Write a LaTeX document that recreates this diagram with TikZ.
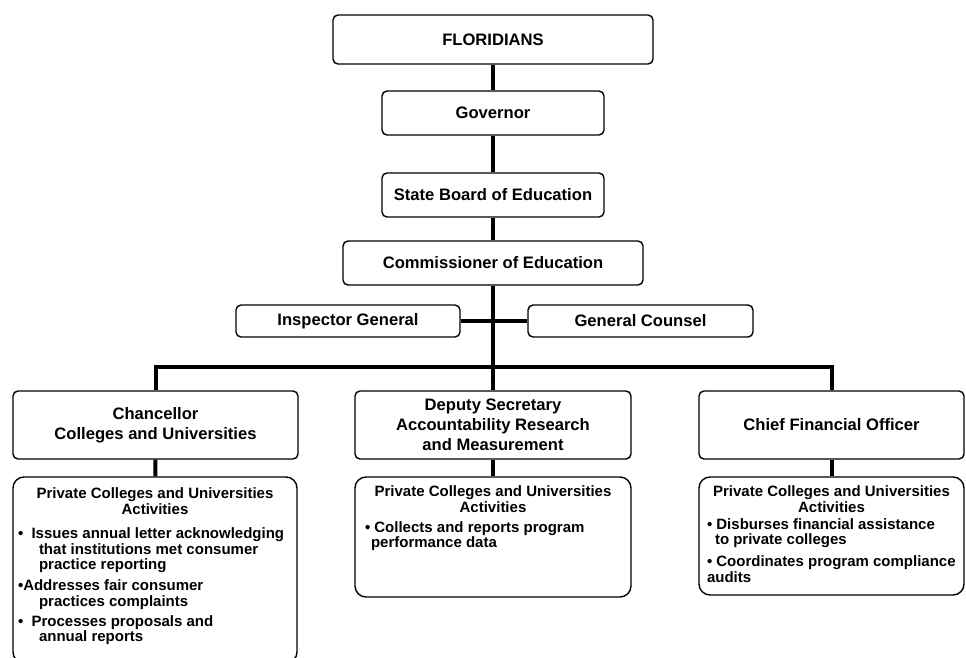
\documentclass[tikz,border=0pt]{standalone}
\usepackage{fontspec}
\setmainfont{Liberation Sans}
\newcommand{\actlist}[3]{\parbox[c][#1][t]{#2}{\fontsize{15}{15.5}\selectfont\bfseries #3}}

\begin{document}
\begin{tikzpicture}[x=1pt, y=-1pt,
	unit/.style={draw, line width=1.4pt, rounded corners=5pt, align=center, inner sep=0pt, font=\fontsize{16.6}{20}\selectfont\bfseries},
	acts/.style={draw, line width=1.4pt, rounded corners=11pt, inner sep=0pt},
	link/.style={line width=4pt}]
	\useasboundingbox (0, 0) rectangle (966, 658);
	\clip (0, 0) rectangle (966, 658);
	\node[unit, minimum width=320, minimum height=49] (flo) at (493, 39.5) {FLORIDIANS};
	\node[unit, minimum width=222, minimum height=44] (gov) at (493, 113) {Governor};
	\node[unit, minimum width=222, minimum height=44] (sbe) at (493, 195) {State Board of Education};
	\node[unit, minimum width=300, minimum height=44] (com) at (493, 263) {Commissioner of Education};
	\node[unit, minimum width=224, minimum height=32] (ig) at (348, 321) {Inspector General};
	\node[unit, minimum width=225, minimum height=32] (gc) at (640.5, 321) {General Counsel};
	\node[unit, minimum width=285, minimum height=68] (chan) at (155.5, 425) {Chancellor\\Colleges and Universities};
	\node[unit, minimum width=276, minimum height=68] (dep) at (493, 425) {Deputy Secretary\\Accountability Research\\and Measurement};
	\node[unit, minimum width=265, minimum height=68] (cfo) at (831.5, 425) {Chief Financial Officer};
	\coordinate (hub) at (493, 367);
	\node[acts] (chanact) at (155, 570) {\actlist{186pt}{284pt}{\vspace*{11pt}%
		{\centering Private Colleges and Universities\\Activities\par}\raggedright
		\vspace{9pt}\hspace*{5pt}\textbullet\ \ Issues annual letter acknowledging\\
		\hspace*{26pt}that institutions met consumer\\
		\hspace*{26pt}practice reporting\par
		\vspace{5.5pt}\hspace*{5pt}\textbullet Addresses fair consumer\\
		\hspace*{26pt}practices complaints\par
		\vspace{4.5pt}\hspace*{5pt}\textbullet\ \ Processes proposals and\\
		\hspace*{26pt}annual reports\par}};
	\node[acts] (depact) at (493, 537) {\actlist{120pt}{276pt}{\vspace*{9pt}%
		{\centering Private Colleges and Universities\\Activities\par}\raggedright
		\vspace{4.5pt}\hspace*{10pt}\textbullet\ Collects and reports program\\
		\hspace*{16pt}performance data\par}};
	\node[acts] (cfoact) at (831.5, 536) {\actlist{118pt}{265pt}{\vspace*{9pt}%
		{\centering Private Colleges and Universities\\Activities\par}\raggedright
		\vspace{1.5pt}\hspace*{8pt}\textbullet\ Disburses financial assistance\\
		\hspace*{16pt}to private colleges\par
		\vspace{6.5pt}\hspace*{8pt}\textbullet\ Coordinates program compliance\\
		\hspace*{8pt}audits\par}};
	\draw[link] (flo) -- (gov);
	\draw[link] (gov) -- (sbe);
	\draw[link] (sbe) -- (com);
	\draw[link] (com.south) -- (hub) -- (dep.north);
	\draw[link] (ig.east) -- (gc.west);
	\draw[link] (chan.north) |- (hub) -| (cfo.north);
	\draw[link] (chan) -- (chanact);
	\draw[link] (dep) -- (depact);
	\draw[link] (cfo) -- (cfoact);
\end{tikzpicture}
\end{document}
